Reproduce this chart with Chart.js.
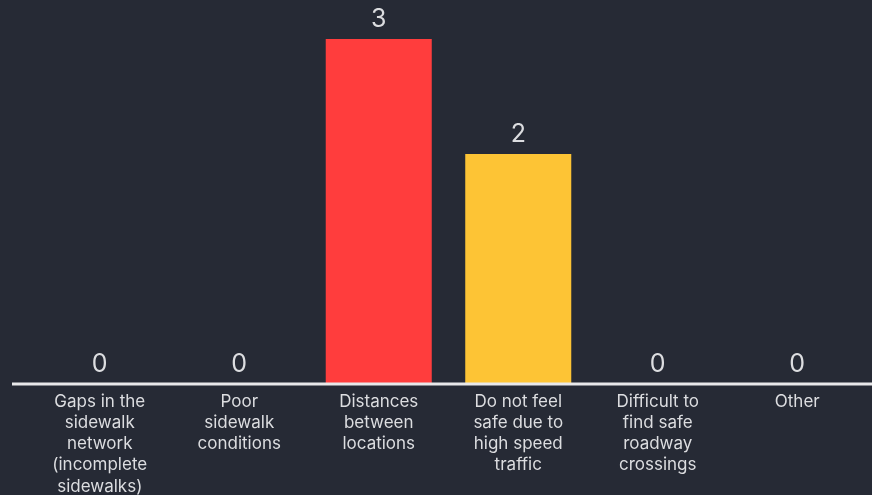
<!DOCTYPE html>
<html>
<head>
<meta charset="utf-8">
<script src="https://cdn.jsdelivr.net/npm/chart.js@4"></script>
<style>
  html, body { margin: 0; padding: 0; background: #262a35; }
  #wrap { width: 872px; height: 495px; position: relative; }
</style>
</head>
<body>
<div id="wrap"><canvas id="barChart"></canvas></div>
<script>
var categories = [
    ['Gaps in the', 'sidewalk', 'network', '(incomplete', 'sidewalks)'],
    ['Poor', 'sidewalk', 'conditions'],
    ['Distances', 'between', 'locations'],
    ['Do not feel', 'safe due to', 'high speed', 'traffic'],
    ['Difficult to', 'find safe', 'roadway', 'crossings'],
    ['Other']
];
var responses = [0, 0, 3, 2, 0, 0];
var barColors = ['#ff3d3d', '#ff3d3d', '#ff3d3d', '#fdc435', '#ff3d3d', '#ff3d3d'];

var textColor = '#dcdde0';

// value labels above each bar
var valueLabels = {
    id: 'valueLabels',
    afterDatasetsDraw: function (chart) {
        var ctx = chart.ctx;
        var meta = chart.getDatasetMeta(0);
        ctx.save();
        ctx.fillStyle = textColor;
        ctx.font = '25px Inter, "Open Sans", sans-serif';
        ctx.textAlign = 'center';
        ctx.textBaseline = 'middle';
        meta.data.forEach(function (bar, i) {
            ctx.fillText(String(responses[i]), bar.x, bar.y - 20);
        });
        ctx.restore();
    }
};

// baseline spanning nearly full width
var baseLine = {
    id: 'baseLine',
    afterDatasetsDraw: function (chart) {
        var ctx = chart.ctx;
        var y = chart.scales.y.getPixelForValue(0);
        ctx.save();
        ctx.strokeStyle = '#e8e8ea';
        ctx.lineWidth = 3;
        ctx.beginPath();
        ctx.moveTo(12, y);
        ctx.lineTo(chart.width, y);
        ctx.stroke();
        ctx.restore();
    }
};

var ctx = document.getElementById('barChart').getContext('2d');
var barChart = new Chart(ctx, {
    type: 'bar',
    data: {
        labels: categories,
        datasets: [{
            data: responses,
            backgroundColor: barColors,
            borderWidth: 0,
            barPercentage: 0.76,
            categoryPercentage: 1
        }]
    },
    options: {
        responsive: true,
        maintainAspectRatio: false,
        animation: false,
        layout: {
            padding: { left: 30, right: 5, top: 39, bottom: 0 }
        },
        scales: {
            x: {
                grid: { display: false, drawTicks: false },
                border: { display: false },
                ticks: {
                    color: textColor,
                    font: { family: 'Inter, "Open Sans", sans-serif', size: 17, lineHeight: 1.25 },
                    maxRotation: 0,
                    autoSkip: false,
                    padding: 7
                },
                afterFit: function (axis) { axis.height = 111; }
            },
            y: {
                display: false,
                min: 0,
                max: 3
            }
        },
        plugins: {
            legend: { display: false },
            tooltip: { enabled: false }
        }
    },
    plugins: [valueLabels, baseLine]
});
</script>
</body>
</html>
